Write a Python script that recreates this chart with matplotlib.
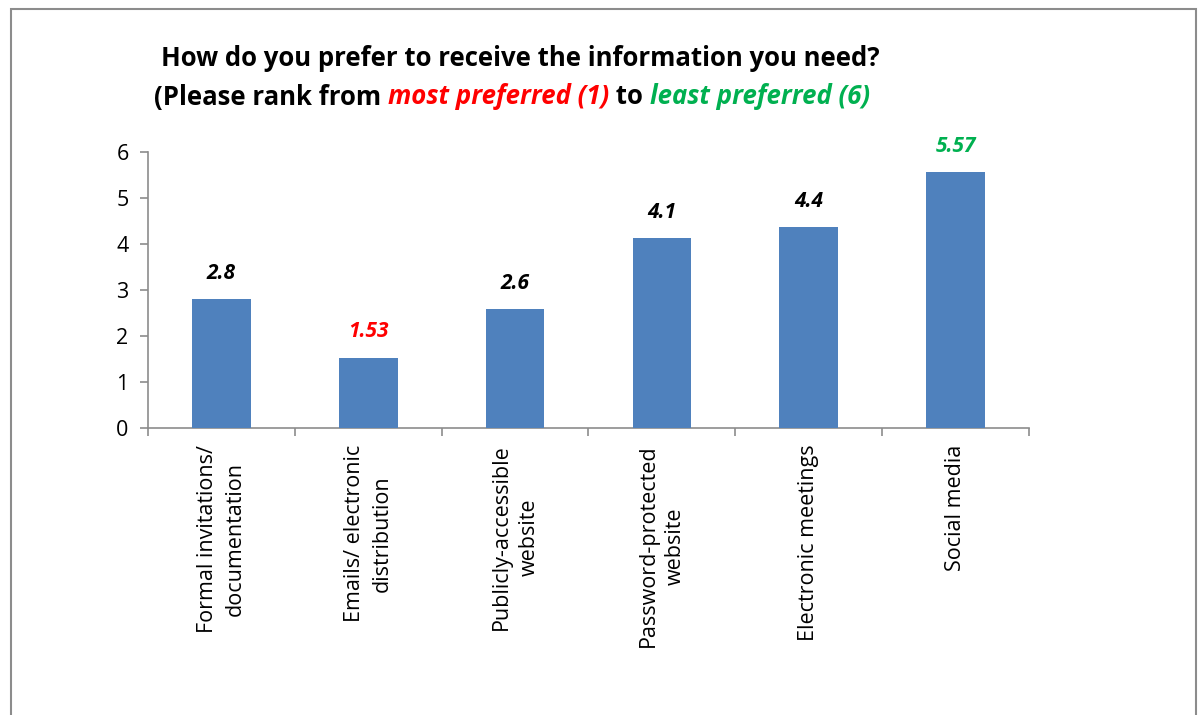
import matplotlib
matplotlib.use("Agg")
import matplotlib.pyplot as plt
from matplotlib.patches import Rectangle

categories = ["Formal invitations/\ndocumentation", "Emails/ electronic\ndistribution",
              "Publicly-accessible\nwebsite", "Password-protected\nwebsite",
              "Electronic meetings", "Social media"]
values = [2.8, 1.53, 2.58, 4.13, 4.37, 5.57]
value_labels = ["2.8", "1.53", "2.6", "4.1", "4.4", "5.57"]
label_colors = ["black", "#FF0000", "black", "black", "black", "#00B050"]
yticks = [0, 1, 2, 3, 4, 5, 6]

FONT = ["Open Sans", "DejaVu Sans"]
plt.rcParams['font.family'] = FONT

W, H = 1198, 715
fig = plt.figure(figsize=(W / 100, H / 100), dpi=100)
fig.patch.set_facecolor("white")

# outer border
fig.add_artist(Rectangle((11 / W, -0.05), (1196 - 11) / W, 1.05 - 9 / H,
                         transform=fig.transFigure, fill=False,
                         edgecolor="#8c8c8c", linewidth=1.5))

ax = fig.add_axes([148 / W, 1 - 428 / H, (1029 - 148) / W, (428 - 152) / H])
x = list(range(len(categories)))
bars = ax.bar(x, values, width=0.4, color="#4F81BD", zorder=3)
ax.set_xlim(-0.5, len(categories) - 0.5)
ax.set_ylim(0, 6)
ax.set_yticks(yticks)
ax.set_yticklabels([str(t) for t in yticks], fontsize=15.5)
ax.set_xticks(x)
ax.set_xticklabels(categories, rotation=90, fontsize=15.5, ha="center", va="top",
                   multialignment="center", linespacing=1.4)
ax.set_xticks([i - 0.5 for i in range(len(categories) + 1)], minor=True)
ax.tick_params(axis="x", which="major", length=0, pad=12)
ax.tick_params(axis="x", which="minor", length=6, color="#8c8c8c", width=1.2)
ax.tick_params(axis="y", length=6, color="#8c8c8c", width=1.2, pad=8)
for s in ["top", "right"]:
    ax.spines[s].set_visible(False)
for s in ["left", "bottom"]:
    ax.spines[s].set_color("#8c8c8c")
    ax.spines[s].set_linewidth(1.2)

for xi, v, lab, c in zip(x, values, value_labels, label_colors):
    ax.annotate(lab, (xi, v), xytext=(0, 11), textcoords="offset points",
                ha="center", va="bottom", fontsize=15, fontweight="bold",
                fontstyle="italic", color=c)

# title
fig.text(520 / W, 1 - 58 / H, "How do you prefer to receive the information you need?",
         ha="center", va="center", fontsize=18.5, fontweight="bold")

segments = [("(Please rank from ", "black", "normal"),
            ("most preferred (1)", "#FF0000", "italic"),
            (" to ", "black", "normal"),
            ("least preferred (6)", "#00B050", "italic")]
renderer = fig.canvas.get_renderer()
texts = []
total = 0
for s, c, st in segments:
    t = fig.text(0, 1 - 97 / H, s, ha="left", va="center", fontsize=18.5,
                 fontweight="bold", fontstyle=st, color=c)
    w = t.get_window_extent(renderer).width
    texts.append((t, w))
    total += w
xpos = 512 - total / 2
for t, w in texts:
    t.set_x(xpos / W)
    xpos += w

fig.savefig("out.png", dpi=100, facecolor="white")
